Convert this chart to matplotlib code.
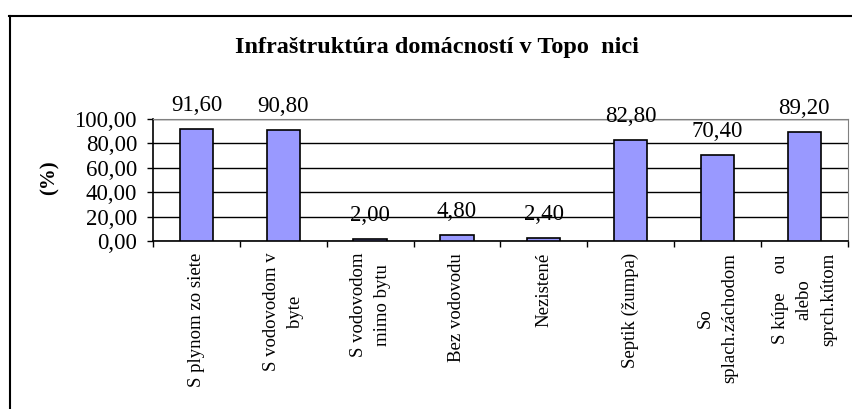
import matplotlib
import matplotlib.pyplot as plt
from matplotlib.lines import Line2D

matplotlib.use('Agg')
plt.rc('font', family='Liberation Serif')

title = 'Infraštruktúra domácností v Topo  nici'
categories = ['S plynom zo siete', 'S vodovodom v\nbyte', 'S vodovodom\nmimo bytu',
              'Bez vodovodu', 'Nezistené', 'Septik (žumpa)', 'So\nsplach.záchodom',
              'S kúpe    ou\nalebo\nsprch.kútom']
values = [91.60, 90.80, 2.00, 4.80, 2.40, 82.80, 70.40, 89.20]
yticks = [0, 20, 40, 60, 80, 100]
bar_color = '#9999ff'


def fmt(v):
    # decimal comma, as in the original
    return ('%.2f' % v).replace('.', ',')


def main():
    fig = plt.figure(figsize=(8.52, 4.09), dpi=100)
    ax = fig.add_axes([153 / 852, 1 - 241 / 409, (847.7 - 153) / 852, (241 - 119) / 409])

    pos = [i + 0.5 for i in range(len(values))]
    ax.bar(pos, values, width=0.385, color=bar_color, edgecolor='black', linewidth=1.2, zorder=3)
    for x, v in zip(pos, values):
        ax.annotate(fmt(v), xy=(x, v), xytext=(0, 13), textcoords='offset points',
                    ha='center', va='baseline', fontsize=16.5, zorder=4)

    ax.set_xlim(0, len(values))
    ax.set_ylim(0, 100)
    ax.set_yticks(yticks)
    ax.set_yticklabels([fmt(t) for t in yticks], fontsize=16.5)
    ax.yaxis.grid(True, color='black', linewidth=1.0, zorder=0)
    ax.set_axisbelow(True)
    ax.tick_params(axis='y', direction='out', length=4.5, width=1.0, pad=7)

    ax.set_xticks(range(len(values) + 1))
    ax.set_xticklabels([])
    ax.tick_params(axis='x', which='major', direction='out', length=4.5, width=1.0)
    ax.set_xticks(pos, minor=True)
    ax.set_xticklabels(categories, minor=True, rotation=90, fontsize=13.5)
    ax.tick_params(axis='x', which='minor', length=0, pad=8.5)
    for lbl in ax.get_xticklabels(minor=True):
        lbl.set_multialignment('center')
        lbl.set_linespacing(1.55)

    ax.spines['left'].set_color('black')
    ax.spines['bottom'].set_color('black')
    ax.spines['left'].set_linewidth(1.2)
    ax.spines['bottom'].set_linewidth(1.2)
    ax.spines['top'].set_color('#808080')
    ax.spines['right'].set_color('#808080')

    fig.text(50 / 852, 1 - 178 / 409, '(%)', rotation=90, fontsize=15, fontweight='bold',
             ha='center', va='center')
    fig.text(437 / 852, 1 - 48 / 409, title, fontsize=17.5, fontweight='bold',
             ha='center', va='center')

    # outer chart frame (cut by the image edges)
    fig.add_artist(Line2D([9.5 / 852, 9.5 / 852], [0, 1 - 16 / 409], transform=fig.transFigure,
                          color='black', linewidth=1.5))
    fig.add_artist(Line2D([9 / 852, 1], [1 - 16 / 409, 1 - 16 / 409], transform=fig.transFigure,
                          color='black', linewidth=1.5))

    fig.savefig('out.png', dpi=100)
    plt.close(fig)


if __name__ == '__main__':
    main()
